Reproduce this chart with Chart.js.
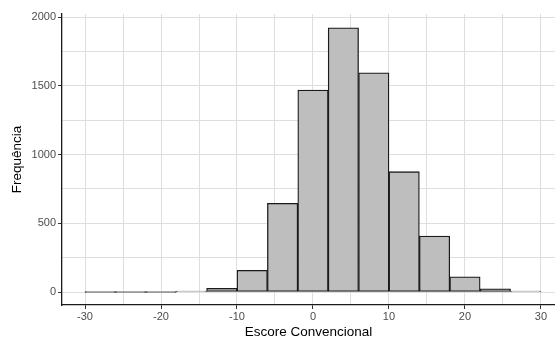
<!DOCTYPE html>
<html>
<head>
<meta charset="utf-8">
<script src="https://cdn.jsdelivr.net/npm/chart.js@4"></script>
<style>
  html, body { margin: 0; padding: 0; background: #fff; }
  #wrap { width: 555px; height: 340px; }
</style>
</head>
<body>
<div id="wrap"><canvas id="myChart" width="555" height="340"></canvas></div>
<script>
// histogram bins (width 4), centres and counts
const binCenters = [-28, -24, -20, -16, -12, -8, -4, 0, 4, 8, 12, 16, 20, 24, 28];
const counts = [0, 0, 0, 5, 27, 158, 645, 1469, 1922, 1595, 875, 407, 111, 24, 4];
const xMajorTicks = [-30, -20, -10, 0, 10, 20, 30];
const yMajorTicks = [0, 500, 1000, 1500, 2000];

const tickFont = { family: 'Liberation Sans, Arial, sans-serif', size: 11 };
const titleFont = { family: 'Liberation Sans, Arial, sans-serif', size: 13.5 };

const ctx = document.getElementById('myChart');

new Chart(ctx, {
    type: 'bar',
    data: {
        datasets: [{
            label: 'Frequência',
            data: binCenters.map((c, i) => ({ x: c, y: counts[i] })),
            backgroundColor: '#bebebe',
            borderColor: '#1a1a1a',
            borderWidth: 1.3,
            borderSkipped: false,
            minBarLength: 1,
            barPercentage: 1,
            categoryPercentage: 1
        }]
    },
    options: {
        responsive: false,
        animation: false,
        layout: { padding: { top: 14, right: 0, left: 5, bottom: 0 } },
        plugins: {
            legend: { display: false },
            tooltip: { enabled: false }
        },
        scales: {
            x: {
                type: 'linear',
                offset: false,
                min: -33.03,
                max: 31.85,
                afterFit: (s) => { s.height = 35; },
                ticks: {
                    stepSize: 5,
                    includeBounds: false,
                    autoSkip: false,
                    maxRotation: 0,
                    color: '#4d4d4d',
                    font: tickFont,
                    padding: 1,
                    callback: (v) => xMajorTicks.includes(v) ? String(v) : ''
                },
                grid: {
                    offset: false,
                    color: '#dedede',
                    lineWidth: 1,
                    tickLength: 4,
                    tickColor: (c) => xMajorTicks.includes(c.tick && c.tick.value) ? '#333' : 'rgba(0,0,0,0)'
                },
                border: { color: '#1a1a1a', width: 1.3 },
                title: {
                    display: true,
                    text: 'Escore Convencional',
                    color: '#000',
                    font: titleFont,
                    padding: { top: 0, bottom: 0 }
                }
            },
            y: {
                min: -94.5,
                max: 2022,
                afterFit: (s) => { s.width = 57; },
                ticks: {
                    stepSize: 250,
                    includeBounds: false,
                    autoSkip: false,
                    color: '#4d4d4d',
                    font: tickFont,
                    padding: 2,
                    callback: (v) => yMajorTicks.includes(v) ? String(v) : ''
                },
                grid: {
                    color: '#dedede',
                    lineWidth: 1,
                    tickLength: 4,
                    tickColor: (c) => yMajorTicks.includes(c.tick && c.tick.value) ? '#333' : 'rgba(0,0,0,0)'
                },
                border: { color: '#1a1a1a', width: 1.3 },
                title: {
                    display: true,
                    text: 'Frequência',
                    color: '#000',
                    font: titleFont,
                    padding: { top: 4, bottom: 0 }
                }
            }
        }
    }
});
</script>
</body>
</html>
